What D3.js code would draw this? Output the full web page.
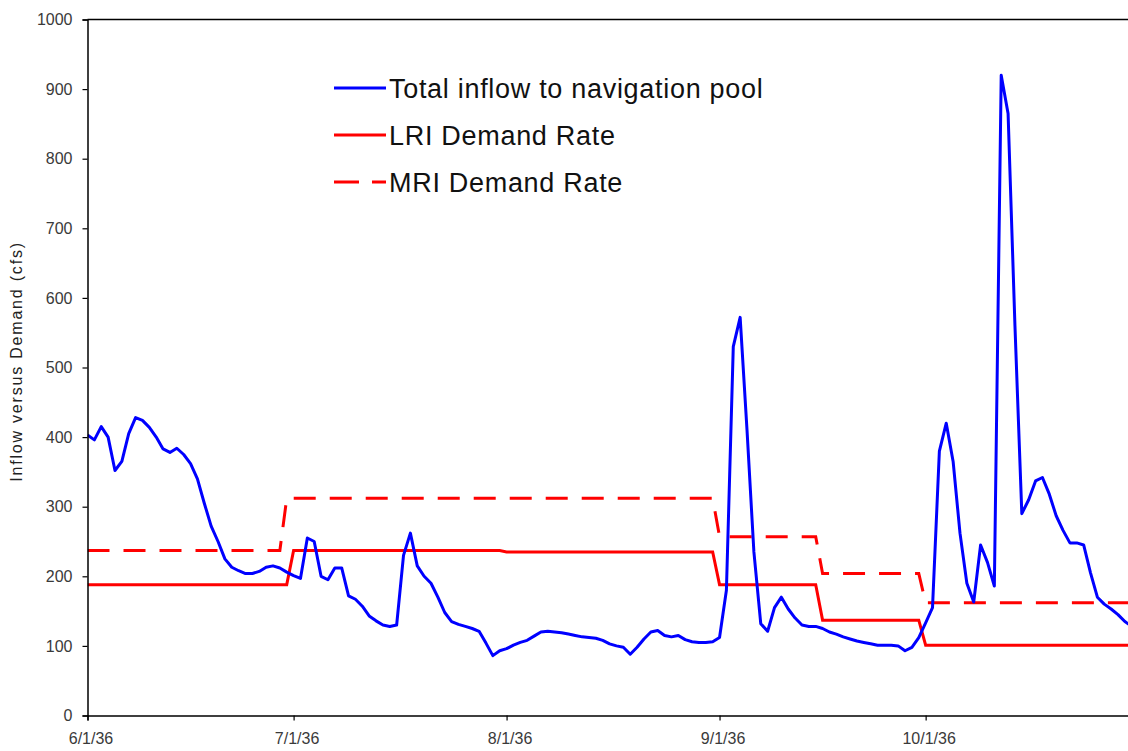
<!DOCTYPE html>
<html>
<head>
<meta charset="utf-8">
<script src="https://cdn.jsdelivr.net/npm/d3@7/dist/d3.min.js"></script>
<style>
  html, body { margin: 0; padding: 0; background: #fff; }
  svg { display: block; }
  text { font-family: Arial, "Liberation Sans", sans-serif; }
</style>
</head>
<body>
<svg id="chart" width="1128" height="751"></svg>
<script>
// Daily inflow, 6/1/36 through 10/31/36 (cfs)
const startDate = "1936-06-01";
const inflowJune = [403, 396, 415, 400, 352, 365, 405, 428, 424, 414, 400, 383, 378, 384, 375,
                    362, 340, 305, 272, 250, 225, 213, 208, 204, 204, 207, 213, 215, 212, 206];
const inflowJuly = [201, 197, 255, 250, 200, 195, 212, 212, 172, 167, 157, 143, 136, 130, 128, 130,
                    230, 262, 215, 200, 190, 170, 148, 135, 131, 128, 125, 121, 104, 86, 93];
const inflowAug  = [96, 101, 105, 108, 114, 120, 121, 120, 119, 117, 115, 113, 112, 111, 108, 103,
                    100, 98, 88, 98, 110, 120, 122, 115, 113, 115, 109, 106, 105, 105, 106];
const inflowSept = [112, 180, 530, 572, 410, 235, 132, 121, 155, 170, 153, 140, 130, 128, 128,
                    125, 120, 117, 113, 110, 107, 105, 103, 101, 101, 101, 100, 93, 98, 112];
const inflowOct  = [133, 155, 380, 420, 365, 262, 190, 163, 245, 220, 186, 920, 865, 560, 290, 310,
                    337, 342, 318, 287, 266, 248, 248, 245, 205, 170, 160, 153, 145, 135, 128];

// Demand schedules (change points)
const lriDates  = ["1936-06-01", "1936-06-30", "1936-07-01", "1936-07-31", "1936-08-01", "1936-08-31",
                   "1936-09-01", "1936-09-15", "1936-09-16", "1936-09-30", "1936-10-01", "1936-10-31"];
const lriValues = [188, 188, 237, 237, 235, 235, 188, 188, 137, 137, 101, 101];
const mriDates  = ["1936-06-01", "1936-06-29", "1936-06-30", "1936-08-31", "1936-09-01", "1936-09-15",
                   "1936-09-16", "1936-09-30", "1936-10-01", "1936-10-31"];
const mriValues = [237, 237, 312, 312, 257, 257, 204, 204, 162, 162];

const yTicks = [0, 100, 200, 300, 400, 500, 600, 700, 800, 900, 1000];
const xTickDates = ["1936-06-01", "1936-07-01", "1936-08-01", "1936-09-01", "1936-10-01"];
const seriesNames = ["Total inflow to navigation pool", "LRI Demand Rate", "MRI Demand Rate"];

const parse = d3.utcParse("%Y-%m-%d");
const fmt = d3.utcFormat("%-m/%-d/%y");

const inflowValues = [].concat(inflowJune, inflowJuly, inflowAug, inflowSept, inflowOct);
const t0 = parse(startDate);
const inflow = inflowValues.map((v, i) => ({ date: d3.utcDay.offset(t0, i), value: v }));
const lri = lriDates.map((d, i) => ({ date: parse(d), value: lriValues[i] }));
const mri = mriDates.map((d, i) => ({ date: parse(d), value: mriValues[i] }));

const svg = d3.select("#chart");
const plotLeft = 87.5, plotTop = 19.5, plotBottom = 715.5;
const dayPx = 6.87;

const x = d3.scaleUtc()
  .domain([parse("1936-06-01"), parse("1936-11-01")])
  .range([plotLeft, plotLeft + 153 * dayPx]);
const y = d3.scaleLinear().domain([0, 1000]).range([plotBottom, plotTop]);

const line = d3.line().x(d => x(d.date)).y(d => y(d.value));

// plot area clip
svg.append("defs").append("clipPath").attr("id", "plot")
  .append("rect").attr("x", plotLeft).attr("y", 0)
  .attr("width", 1128 - plotLeft).attr("height", plotBottom + 2);

const g = svg.append("g").attr("clip-path", "url(#plot)");

g.append("path").datum(mri)
  .attr("d", line).attr("fill", "none")
  .attr("stroke", "#ff0000").attr("stroke-width", 3)
  .attr("stroke-dasharray", "22,14");

g.append("path").datum(lri)
  .attr("d", line).attr("fill", "none")
  .attr("stroke", "#ff0000").attr("stroke-width", 3);

g.append("path").datum(inflow)
  .attr("d", line).attr("fill", "none")
  .attr("stroke", "#0000ff").attr("stroke-width", 3)
  .attr("stroke-linejoin", "round");

// top border of the plot area
svg.append("line")
  .attr("x1", plotLeft).attr("x2", 1128).attr("y1", plotTop).attr("y2", plotTop)
  .attr("stroke", "#000").attr("stroke-width", 1.5);

// y axis
const yAxis = svg.append("g")
  .attr("transform", `translate(${plotLeft},0)`)
  .call(d3.axisLeft(y).tickValues(yTicks).tickSize(5).tickPadding(10).tickFormat(d3.format("d")));
yAxis.select(".domain").attr("stroke", "#000").attr("stroke-width", 1.5);
yAxis.selectAll(".tick line").attr("stroke", "#000").attr("stroke-width", 1.2);
yAxis.selectAll(".tick text")
  .attr("font-size", 16).attr("fill", "#3a3a3a")
  .attr("font-family", "Arial, 'Liberation Sans', sans-serif");

// x axis
const xAxis = svg.append("g")
  .attr("transform", `translate(0,${plotBottom})`)
  .call(d3.axisBottom(x).tickValues(xTickDates.map(parse)).tickSize(5).tickPadding(12).tickFormat(fmt));
xAxis.select(".domain").attr("stroke", "#000").attr("stroke-width", 1.5);
xAxis.selectAll(".tick line").attr("stroke", "#000").attr("stroke-width", 1.2);
xAxis.selectAll(".tick text")
  .attr("font-size", 16).attr("fill", "#3a3a3a").attr("dx", 3)
  .attr("font-family", "Arial, 'Liberation Sans', sans-serif");

// y axis title
svg.append("text")
  .attr("transform", `translate(22,${(plotTop + plotBottom) / 2 - 6}) rotate(-90)`)
  .attr("text-anchor", "middle")
  .attr("font-size", 16).attr("fill", "#222")
  .attr("letter-spacing", 1.8)
  .text("Inflow versus Demand (cfs)");

// legend
const legend = svg.append("g");
const legendRows = [
  { name: seriesNames[0], color: "#0000ff", dash: null },
  { name: seriesNames[1], color: "#ff0000", dash: null },
  { name: seriesNames[2], color: "#ff0000", dash: "25,13" }
];
legendRows.forEach((r, i) => {
  const ly = 88 + i * 47;
  legend.append("line")
    .attr("x1", 334).attr("x2", 386).attr("y1", ly).attr("y2", ly)
    .attr("stroke", r.color).attr("stroke-width", 3)
    .attr("stroke-dasharray", r.dash);
  legend.append("text")
    .attr("x", 389).attr("y", ly + 10)
    .attr("font-size", 27).attr("fill", "#111")
    .attr("letter-spacing", 0.7)
    .text(r.name);
});
</script>
</body>
</html>
